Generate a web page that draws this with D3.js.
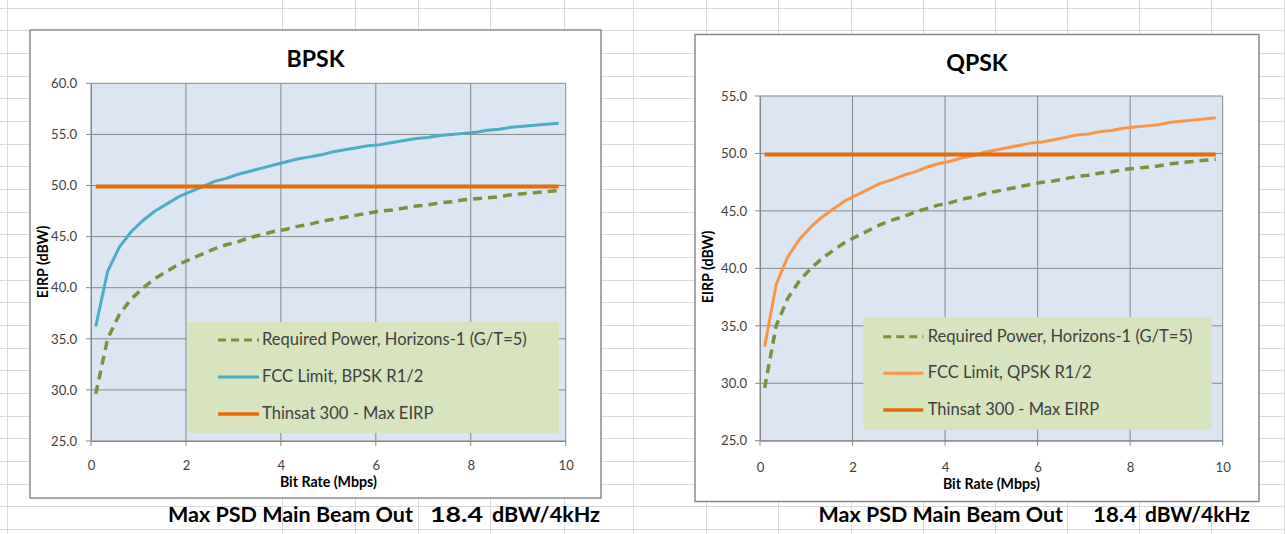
<!DOCTYPE html>
<html><head><meta charset="utf-8">
<script src="https://cdn.jsdelivr.net/npm/d3@7"></script>
<style>body{margin:0;background:#fff}svg{display:block}</style>
</head><body><svg id="c" width="1285" height="534"></svg>
<script>
// ---- DATA ----
const bitRate = [0.1,0.35,0.6,0.85,1.1,1.35,1.6,1.85,2.1,2.35,2.6,2.85,3.1,3.35,3.6,3.85,4.1,4.35,4.6,4.85,5.1,5.35,5.6,5.85,6.1,6.35,6.6,6.85,7.1,7.35,7.6,7.85,8.1,8.35,8.6,8.85,9.1,9.35,9.6,9.85];
const requiredPower = [29.6,35.0,37.4,38.9,40.0,40.9,41.6,42.3,42.8,43.3,43.8,44.2,44.5,44.9,45.2,45.5,45.7,46.0,46.2,46.5,46.7,46.9,47.1,47.3,47.5,47.6,47.8,48.0,48.1,48.3,48.4,48.6,48.7,48.8,48.9,49.1,49.2,49.3,49.4,49.5];
const fccBpsk = [36.2,41.6,44.0,45.5,46.6,47.5,48.2,48.9,49.4,49.9,50.4,50.7,51.1,51.4,51.7,52.0,52.3,52.6,52.8,53.0,53.3,53.5,53.7,53.9,54.0,54.2,54.4,54.6,54.7,54.9,55.0,55.1,55.2,55.4,55.5,55.7,55.8,55.9,56.0,56.1];
const fccQpsk = [33.2,38.6,41.0,42.5,43.6,44.5,45.2,45.9,46.4,46.9,47.4,47.7,48.1,48.4,48.8,49.1,49.3,49.6,49.8,50.1,50.3,50.5,50.7,50.9,51.0,51.2,51.4,51.6,51.7,51.9,52.0,52.2,52.3,52.4,52.5,52.7,52.8,52.9,53.0,53.1];
const thinsatMax = [49.9,49.9,49.9,49.9,49.9,49.9,49.9,49.9,49.9,49.9,49.9,49.9,49.9,49.9,49.9,49.9,49.9,49.9,49.9,49.9,49.9,49.9,49.9,49.9,49.9,49.9,49.9,49.9,49.9,49.9,49.9,49.9,49.9,49.9,49.9,49.9,49.9,49.9,49.9,49.9];
const xTicks = [0,2,4,6,8,10];
const yTicksBpsk = [25,30,35,40,45,50,55,60];
const yTicksQpsk = [25,30,35,40,45,50,55];
const titles = ["BPSK","QPSK"];
const legendLabelsBpsk = ["Required Power, Horizons-1 (G/T=5)","FCC Limit, BPSK R1/2","Thinsat 300 - Max EIRP"];
const legendLabelsQpsk = ["Required Power, Horizons-1 (G/T=5)","FCC Limit, QPSK R1/2","Thinsat 300 - Max EIRP"];
const xTitle = "Bit Rate (Mbps)";
const yTitle = "EIRP (dBW)";
const footerTexts = ["Max PSD Main Beam Out","18.4","dBW/4kHz"];

// ---- DRAW ----
const FONT = "Lato, 'Open Sans', sans-serif";
const svg = d3.select("#c");
svg.append("rect").attr("width",1285).attr("height",534).attr("fill","#fff");

// font sizes fitted to the reference text widths
function fitSize(txt, weight, target){
  const t = svg.append("text").attr("font-family",FONT).attr("font-weight",weight).attr("font-size",20).text(txt);
  const w = t.node().getComputedTextLength(); t.remove();
  return 20*target/w;
}
const legendSize = fitSize(legendLabelsBpsk[0], "normal", 265);
const axisTitleSize = fitSize(xTitle, "bold", 97);
const tickSize = fitSize("60.0", "normal", 26);
const titleSize = fitSize("BPSK", "bold", 58);

// spreadsheet cell grid (background decoration)
const sheet = svg.append("g").attr("stroke","#dadada").attr("stroke-width",1);
d3.range(7.5, 534, 22.67).forEach(yy => sheet.append("line").attr("x1",0).attr("x2",1285).attr("y1",Math.round(yy)+0.5).attr("y2",Math.round(yy)+0.5));
[7,282,355,418,490,564,633,706,778,851,923,995,1067,1139,1211,1284].forEach(xx => sheet.append("line").attr("y1",0).attr("y2",534).attr("x1",xx+0.5).attr("x2",xx+0.5));

function drawChart(cfg){
  const g = svg.append("g");
  g.append("rect").attr("x",cfg.box[0]).attr("y",cfg.box[1]).attr("width",cfg.box[2]).attr("height",cfg.box[3])
    .attr("fill","#fff").attr("stroke","#8a8a8a").attr("stroke-width",1.5);
  const p = cfg.plot;
  const x = d3.scaleLinear().domain([0,10]).range([p.left,p.right]);
  const y = d3.scaleLinear().domain(cfg.yDomain).range([p.bottom,p.top]);
  g.append("rect").attr("x",p.left).attr("y",p.top).attr("width",p.right-p.left).attr("height",p.bottom-p.top).attr("fill","#dce6f2");
  // gridlines
  g.append("g").selectAll("line").data(cfg.yTicks).join("line")
    .attr("x1",p.left-5).attr("x2",p.right).attr("y1",d=>y(d)).attr("y2",d=>y(d))
    .attr("stroke","#878787").attr("stroke-width",1);
  g.append("g").selectAll("line").data(xTicks).join("line")
    .attr("y1",p.top).attr("y2",p.bottom+5).attr("x1",d=>x(d)).attr("x2",d=>x(d))
    .attr("stroke","#878787").attr("stroke-width",1);
  // axes labels via d3 axis
  const ya = g.append("g").attr("transform",`translate(${p.left},0)`)
    .call(d3.axisLeft(y).tickValues(cfg.yTicks).tickSize(0).tickPadding(cfg.yPad).tickFormat(d3.format(".1f")));
  ya.select(".domain").attr("stroke","#878787");
  ya.selectAll("text").attr("font-family",FONT).attr("font-size",tickSize).attr("fill","#404040");
  const xa = g.append("g").attr("transform",`translate(0,${p.bottom})`)
    .call(d3.axisBottom(x).tickValues(xTicks).tickSize(0).tickPadding(cfg.xPad).tickFormat(d3.format("d")));
  xa.select(".domain").attr("stroke","#878787");
  xa.selectAll("text").attr("font-family",FONT).attr("font-size",tickSize).attr("fill","#404040");
  // titles
  g.append("text").attr("x",cfg.titleX).attr("y",cfg.titleY).attr("text-anchor","middle")
    .attr("font-family",FONT).attr("font-weight","bold").attr("font-size",titleSize).attr("fill","#000").text(cfg.title);
  g.append("text").attr("x",(p.left+p.right)/2).attr("y",cfg.xTitleY).attr("text-anchor","middle")
    .attr("font-family",FONT).attr("font-weight","bold").attr("font-size",axisTitleSize).attr("fill","#000").text(xTitle);
  g.append("text").attr("transform",`translate(${cfg.yTitleX},${cfg.yTitleY}) rotate(-90)`).attr("text-anchor","middle")
    .attr("font-family",FONT).attr("font-weight","bold").attr("font-size",axisTitleSize).attr("fill","#000").text(yTitle);
  // series
  const line = d3.line().x((d,i)=>x(bitRate[i])).y(d=>y(d));
  const series = [
    {v:requiredPower, color:"#77933c", w:3.5, dash:"9,6"},
    {v:cfg.fcc, color:cfg.fccColor, w:3, dash:null},
    {v:thinsatMax, color:"#e46c0a", w:4, dash:null}
  ];
  series.forEach(s=>{
    g.append("path").attr("d",line(s.v)).attr("fill","none").attr("stroke",s.color).attr("stroke-width",s.w)
      .attr("stroke-dasharray",s.dash).attr("stroke-linejoin","round");
  });
  // legend
  const L = cfg.legend;
  g.append("rect").attr("x",L.x).attr("y",L.y).attr("width",L.w).attr("height",L.h).attr("fill","#d7e4bd");
  series.forEach((s,i)=>{
    const ry = L.rows[i];
    g.append("line").attr("x1",L.lx1).attr("x2",L.lx2).attr("y1",ry).attr("y2",ry)
      .attr("stroke",s.color).attr("stroke-width",s.w===4?3.5:3).attr("stroke-dasharray",s.dash?"8,5":null);
    g.append("text").attr("x",L.tx).attr("y",ry+5).attr("font-family",FONT).attr("font-size",legendSize).attr("fill","#404040")
      .text(cfg.labels[i]);
  });
  // footer
  cfg.footer.forEach((f,i)=>{
    g.append("text").attr("x",f[0]).attr("y",522).attr("textLength",f[1]-f[0]).attr("lengthAdjust","spacingAndGlyphs")
      .attr("font-family",FONT).attr("font-weight","bold").attr("font-size",20).attr("fill","#000").text(footerTexts[i]);
  });
}

drawChart({
  box:[30,30,571,468],
  plot:{left:91,right:565.7,top:83.3,bottom:441},
  yDomain:[25,60], yTicks:yTicksBpsk, yPad:14, xPad:20,
  title:titles[0], titleX:315.5, titleY:67,
  xTitleY:487, yTitleX:48, yTitleY:262,
  fcc:fccBpsk, fccColor:"#4bacc6", labels:legendLabelsBpsk,
  legend:{x:187,y:322,w:372,h:111,rows:[340,377,414],lx1:218,lx2:259,tx:262},
  footer:[[168,413],[430,483],[492,600]]
});
drawChart({
  box:[695,34.5,564,467],
  plot:{left:760,right:1222.7,top:96,bottom:440.7},
  yDomain:[25,55], yTicks:yTicksQpsk, yPad:13, xPad:22,
  title:titles[1], titleX:977, titleY:71,
  xTitleY:489, yTitleX:713, yTitleY:267,
  fcc:fccQpsk, fccColor:"#f79646", labels:legendLabelsQpsk,
  legend:{x:863.3,y:317.3,w:348.4,h:112.7,rows:[336.7,373.3,410],lx1:883.3,lx2:923.3,tx:927.7},
  footer:[[818.6,1063],[1093,1137],[1145,1250]]
});
</script></body></html>
